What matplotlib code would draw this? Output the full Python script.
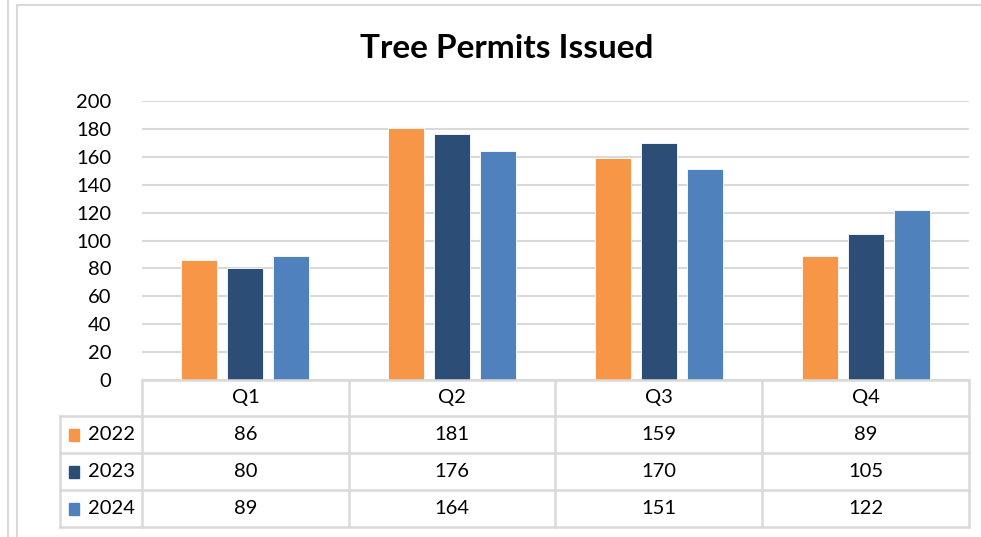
import matplotlib
matplotlib.use("Agg")
import matplotlib.pyplot as plt
from matplotlib.lines import Line2D
from matplotlib.patches import Rectangle

categories = ["Q1", "Q2", "Q3", "Q4"]
series_names = ["2022", "2023", "2024"]
values_2022 = [86, 181, 159, 89]
values_2023 = [80, 176, 170, 105]
values_2024 = [89, 164, 151, 122]
yticks = [0, 20, 40, 60, 80, 100, 120, 140, 160, 180, 200]

colors = ["#F79646", "#2C4D75", "#4F81BD"]
grid_col = "#D9D9D9"
FONT = "Lato"
FS = 14.5

W, H = 981, 537
fig = plt.figure(figsize=(W / 100, H / 100), dpi=100)
fig.patch.set_facecolor("white")

def fx(x):
    return x / W

def fy(y):
    return 1 - y / H

# plot area
x0, x1, ytop, ybot = 142, 969, 101, 380
ax = fig.add_axes([fx(x0), fy(ybot), fx(x1) - fx(x0), fy(ytop) - fy(ybot)])
ax.set_xlim(-0.5, len(categories) - 0.5)
ax.set_ylim(0, 200)
for s in ax.spines.values():
    s.set_visible(False)
ax.set_yticks(yticks)
ax.set_yticklabels([str(t) for t in yticks], fontfamily=FONT, fontsize=FS)
ax.tick_params(axis="y", length=0, pad=22)
ax.set_xticks([])
ax.yaxis.grid(True, color=grid_col, linewidth=1.5)
ax.set_axisbelow(True)

bw = 0.174
off = 0.222
for i, (vals, c) in enumerate(zip([values_2022, values_2023, values_2024], colors)):
    xs = [k + (i - 1) * off for k in range(len(categories))]
    ax.bar(xs, vals, width=bw, color=c, edgecolor="#FFFFFF", linewidth=0.6, zorder=3)

# title
fig.text(fx(507), fy(48), "Tree Permits Issued", ha="center", va="center",
         fontfamily=FONT, fontweight="bold", fontsize=24)

# data table
col_edges = [142, 349, 555, 762, 969]
row_edges = [380, 416, 453, 490, 527]
left_edge = 60
lw = 1.8

def hline(y, xa, xb):
    fig.add_artist(Line2D([fx(xa), fx(xb)], [fy(y), fy(y)], color=grid_col, lw=lw))

def vline(x, ya, yb):
    fig.add_artist(Line2D([fx(x), fx(x)], [fy(ya), fy(yb)], color=grid_col, lw=lw))

hline(row_edges[0], col_edges[0], col_edges[-1])
for y in row_edges[1:]:
    hline(y, left_edge, col_edges[-1])
vline(left_edge, row_edges[1], row_edges[-1])
for x in col_edges:
    vline(x, row_edges[0], row_edges[-1])

for j, cat in enumerate(categories):
    cx = (col_edges[j] + col_edges[j + 1]) / 2
    cy = (row_edges[0] + row_edges[1]) / 2
    fig.text(fx(cx), fy(cy), cat, ha="center", va="center", fontfamily=FONT, fontsize=FS)

all_vals = [values_2022, values_2023, values_2024]
for i, name in enumerate(series_names):
    cy = (row_edges[i + 1] + row_edges[i + 2]) / 2
    fig.add_artist(Rectangle((fx(69), fy(cy + 6)), fx(10), 12 / H, color=colors[i],
                             transform=fig.transFigure))
    fig.text(fx(88), fy(cy), name, ha="left", va="center", fontfamily=FONT, fontsize=FS)
    for j in range(len(categories)):
        cx = (col_edges[j] + col_edges[j + 1]) / 2
        fig.text(fx(cx), fy(cy), str(all_vals[i][j]), ha="center", va="center",
                 fontfamily=FONT, fontsize=FS)

# outer frame lines
frame_col = "#D9D9D9"
fig.add_artist(Line2D([fx(8), fx(8)], [0, 1], color=frame_col, lw=1.5))
fig.add_artist(Line2D([fx(16.5), fx(16.5)], [0, fy(5)], color=frame_col, lw=1.5))
fig.add_artist(Line2D([fx(16.5), 1], [fy(5), fy(5)], color=frame_col, lw=1.5))

fig.savefig("out.png", dpi=100, facecolor="white")
